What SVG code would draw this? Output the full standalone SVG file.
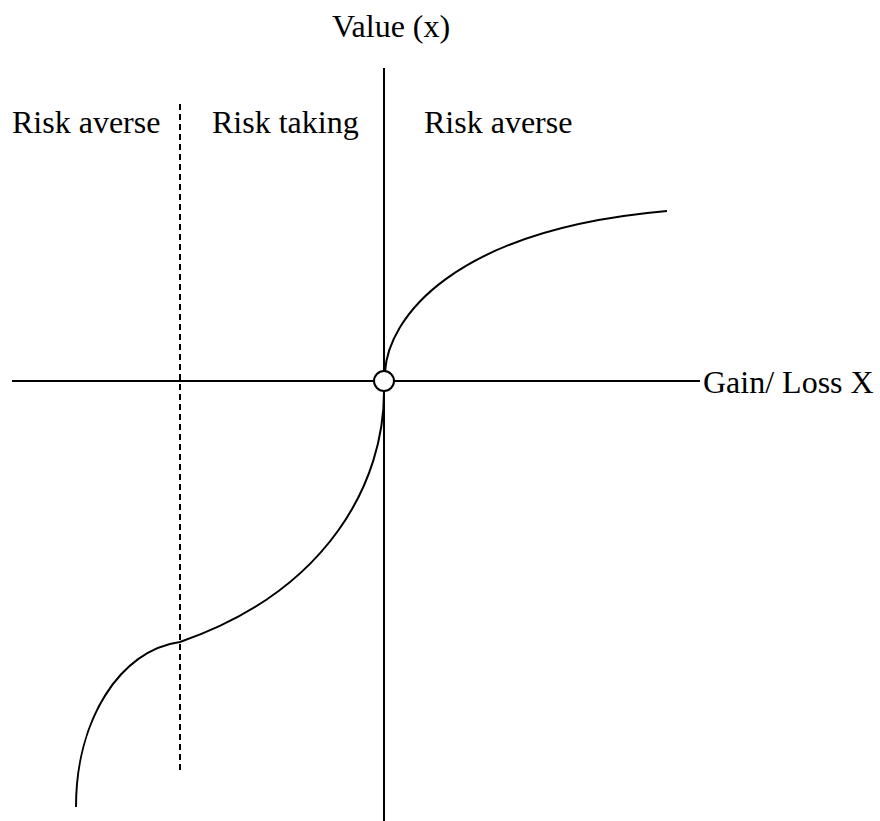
<svg xmlns="http://www.w3.org/2000/svg" width="880" height="821" viewBox="0 0 880 821">
<style>
.t{font-family:"Liberation Serif","Times New Roman",serif;font-size:32px;fill:#000}
.ax{stroke:#000;stroke-width:2;fill:none}
.cv{stroke:#000;stroke-width:2;fill:none}
.ds{stroke:#000;stroke-width:2;fill:none;stroke-dasharray:6,4}
</style>
<rect width="880" height="821" fill="#fff"/>
<g id="connectors">
<line id="y-axis" class="ax" x1="384" y1="68" x2="384" y2="821"/>
<line id="x-axis" class="ax" x1="12" y1="381" x2="700" y2="381"/>
<line id="divider" class="ds" x1="180" y1="104" x2="180" y2="770"/>
<path id="gain-curve" class="cv" d="M385,372 C388,320 450,230 667,211"/>
<path id="loss-curve" class="cv" d="M384,392 C384,480 330,590 180,642 C120,650 76,720 76,807"/>
</g>
<g id="origin"><circle cx="384" cy="381" r="10" fill="#fff" stroke="#000" stroke-width="2"/></g>
<g id="label-value"><text class="t" x="332" y="37">Value (x)</text></g>
<g id="label-averse-left"><text class="t" x="12" y="133">Risk averse</text></g>
<g id="label-taking"><text class="t" x="212" y="133">Risk taking</text></g>
<g id="label-averse-right"><text class="t" x="424" y="133">Risk averse</text></g>
<g id="label-gainloss"><text class="t" x="703" y="393">Gain/ Loss X</text></g>
</svg>
